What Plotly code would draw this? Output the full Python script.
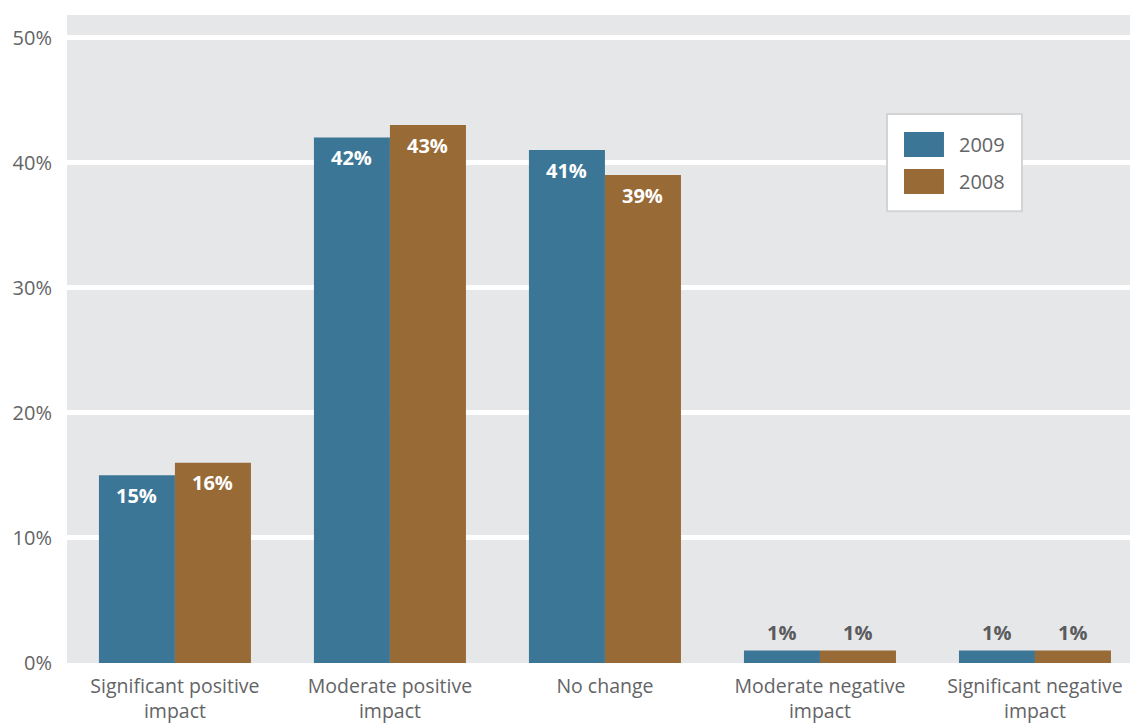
import plotly.graph_objects as go

categories = [
    "Significant positive<br>impact",
    "Moderate positive<br>impact",
    "No change",
    "Moderate negative<br>impact",
    "Significant negative<br>impact",
]
series_names = ["2009", "2008"]
values_2009 = [15, 42, 41, 1, 1]
values_2008 = [16, 43, 39, 1, 1]
y_ticks = [0, 10, 20, 30, 40, 50]
y_tick_labels = ["0%", "10%", "20%", "30%", "40%", "50%"]

BLUE = "#3b7696"
BROWN = "#986a35"
FONT = "Open Sans"
GREY_TEXT = "#636466"

fig = go.Figure()
for name, vals, color in [(series_names[0], values_2009, BLUE),
                          (series_names[1], values_2008, BROWN)]:
    fig.add_trace(go.Bar(
        x=list(range(len(categories))), y=vals, name=name,
        marker=dict(color=color, line=dict(width=0)),
        showlegend=False,
    ))

# value labels: inside the top of tall bars, above short bars
annotations = []
for vals, shift in [(values_2009, -38), (values_2008, 38)]:
    for i, v in enumerate(vals):
        inside = v >= 5
        annotations.append(dict(
            x=i, y=v, xref="x", yref="y", xshift=shift,
            yshift=-20 if inside else 18,
            text=f"<b>{v}%</b>", showarrow=False,
            font=dict(family=FONT, size=20,
                      color="white" if inside else "#5a5b5d"),
        ))

# legend box
shapes = [dict(type="rect", xref="paper", yref="paper",
               x0=0.7714, x1=0.8984, y0=0.6973, y1=0.8471,
               fillcolor="white", line=dict(color="#d3d4d6", width=2),
               layer="above")]
for name, color, y0, y1, yc in [(series_names[0], BLUE, 0.7807, 0.8193, 0.800),
                                (series_names[1], BROWN, 0.7236, 0.7622, 0.7436)]:
    shapes.append(dict(type="rect", xref="paper", yref="paper",
                       x0=0.7874, x1=0.8250, y0=y0, y1=y1,
                       fillcolor=color, line=dict(width=0), layer="above"))
    annotations.append(dict(x=0.8373, y=yc, xref="paper", yref="paper",
                            text=name, showarrow=False, xanchor="left",
                            yanchor="middle",
                            font=dict(family=FONT, size=20, color=GREY_TEXT)))

fig.update_layout(
    width=1130, height=723,
    margin=dict(l=67, r=0, t=15, b=60),
    paper_bgcolor="white", plot_bgcolor="#e6e7e9",
    barmode="group", bargap=0.293, bargroupgap=0,
    font=dict(family=FONT, size=20, color=GREY_TEXT),
    xaxis=dict(
        tickmode="array", tickvals=list(range(len(categories))),
        ticktext=categories, range=[-0.502, 4.442],
        showgrid=False, zeroline=False, showline=False, ticks="",
        ticklabelstandoff=9,
        tickfont=dict(family=FONT, size=19.5, color=GREY_TEXT),
    ),
    yaxis=dict(
        tickmode="array", tickvals=y_ticks, ticktext=y_tick_labels,
        range=[0, 51.8], showgrid=True, gridcolor="white", gridwidth=5,
        zeroline=False, showline=False, ticks="", ticklabelstandoff=14,
        tickfont=dict(family=FONT, size=20, color=GREY_TEXT),
    ),
    shapes=shapes,
    annotations=annotations,
)

fig.write_html("out.html")
